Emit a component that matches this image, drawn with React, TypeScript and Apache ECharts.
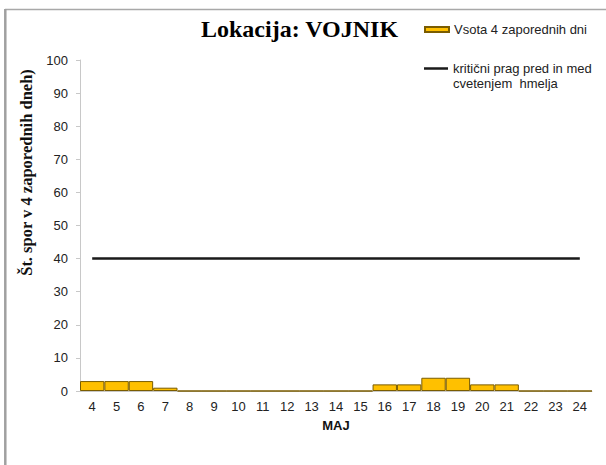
import React, { useEffect, useRef } from "react";
import * as echarts from "echarts";

const days = ["4", "5", "6", "7", "8", "9", "10", "11", "12", "13", "14", "15", "16", "17", "18", "19", "20", "21", "22", "23", "24"];
const sumValues = [3, 3, 3, 1, 0, 0, 0, 0, 0, 0, 0, 0, 2, 2, 4, 4, 2, 2, 0, 0, 0];
const thresholdValues = [40, 40, 40, 40, 40, 40, 40, 40, 40, 40, 40, 40, 40, 40, 40, 40, 40, 40, 40, 40, 40];
const barName = "Vsota 4 zaporednih dni";
const lineName = "kritični prag pred in med cvetenjem  hmelja";
const lineNameFirst = "kritični prag pred in med";
const lineNameSecond = "cvetenjem  hmelja";

export default function App() {
  const ref = useRef<HTMLDivElement>(null);
  useEffect(() => {
    if (!ref.current) return;
    const chart = echarts.init(ref.current, null, { renderer: "svg" });
    const sans = "'Liberation Sans', Arial, sans-serif";
    const serif = "'Liberation Serif', 'Times New Roman', serif";
    chart.setOption({
      animation: false,
      backgroundColor: "#ffffff",
      title: {
        text: "Lokacija: VOJNIK",
        left: 196,
        top: 12,
        textStyle: { fontFamily: serif, fontWeight: "bold", fontSize: 24, color: "#000" },
      },
      legend: [
        {
          data: [{ name: barName, icon: "rect" }],
          left: 424,
          top: 23,
          padding: 0,
          itemWidth: 24,
          itemHeight: 5,
          textStyle: { fontFamily: sans, fontSize: 13, color: "#222" },
          selectedMode: false,
        },
        {
          data: [{ name: lineName, icon: "rect" }],
          left: 424,
          top: 62,
          padding: 0,
          itemWidth: 24,
          itemHeight: 2.5,
          textStyle: { fontFamily: sans, fontSize: 13, color: "#222" },
          formatter: () => lineNameFirst,
          selectedMode: false,
        },
      ],
      graphic: [
        { type: "line", shape: { x1: 5, y1: 9.5, x2: 606, y2: 9.5 }, style: { stroke: "#a8a8a8", lineWidth: 1.5 } },
        { type: "line", shape: { x1: 5.3, y1: 9, x2: 5.3, y2: 465 }, style: { stroke: "#a0a0a0", lineWidth: 2.5 } },
        {
          type: "text",
          left: 453,
          top: 77,
          style: { text: lineNameSecond, fontFamily: sans, fontSize: 13, fill: "#222" },
        },
      ],
      grid: { left: 80, right: 14, top: 60, bottom: 74 },
      xAxis: {
        type: "category",
        data: days,
        boundaryGap: true,
        name: "MAJ",
        nameLocation: "middle",
        nameGap: 28,
        nameTextStyle: { fontFamily: sans, fontSize: 13, fontWeight: "bold", color: "#111" },
        axisLine: { lineStyle: { color: "#c8c8c8", width: 1 } },
        axisTick: { show: false },
        axisLabel: { fontFamily: sans, fontSize: 13, color: "#222", margin: 9, interval: 0 },
      },
      yAxis: {
        type: "value",
        min: 0,
        max: 100,
        interval: 10,
        name: "Št. spor v 4 zaporednih dneh)",
        nameLocation: "middle",
        nameGap: 44,
        nameRotate: 90,
        nameTextStyle: { fontFamily: serif, fontSize: 16.5, fontWeight: "bold", color: "#111", padding: [0, 0, 0, 106] },
        axisLine: { show: true, lineStyle: { color: "#c8c8c8", width: 1 } },
        axisTick: { show: true, length: 4, lineStyle: { color: "#c8c8c8" } },
        axisLabel: { fontFamily: sans, fontSize: 13, color: "#222", margin: 12 },
        splitLine: { show: false },
      },
      series: [
        {
          name: barName,
          type: "bar",
          data: sumValues,
          barCategoryGap: "0%",
          itemStyle: { color: "#FFC000", borderColor: "#7a5c00", borderWidth: 1 },
        },
        {
          name: lineName,
          type: "line",
          data: thresholdValues,
          symbol: "none",
          lineStyle: { color: "#1a1a1a", width: 2.5 },
          itemStyle: { color: "#1a1a1a" },
        },
      ],
    });
    return () => chart.dispose();
  }, []);
  return <div ref={ref} style={{ position: "fixed", left: 0, top: 0, width: 606, height: 465 }} />;
}
